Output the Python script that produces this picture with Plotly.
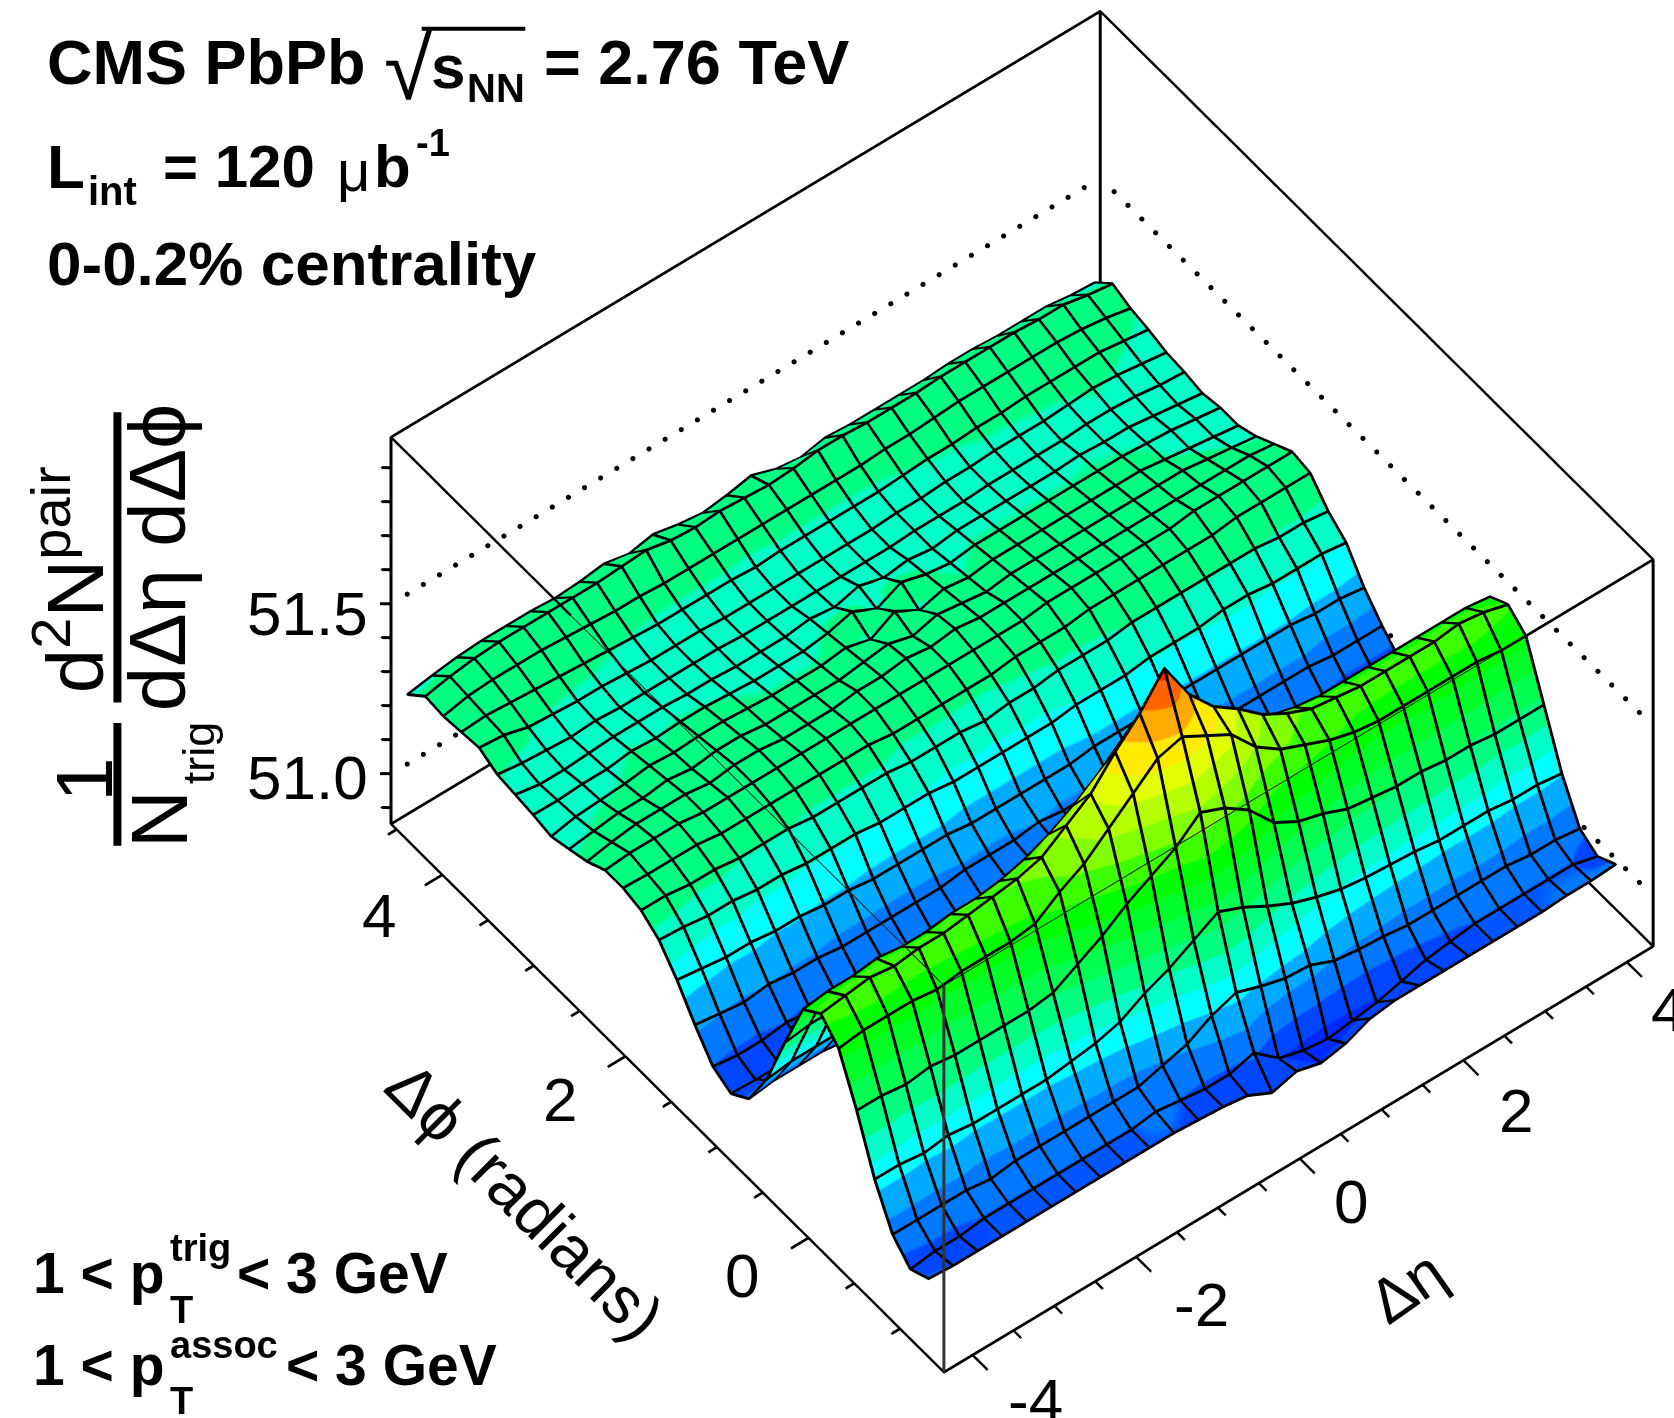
import plotly.graph_objects as go

DETA = [-4.2,-3.9,-3.6,-3.3,-3.0,-2.7,-2.4,-2.1,-1.8,-1.5,-1.2,-0.9,-0.6,-0.3,0.0,0.3,0.6,0.9,1.2,1.5,1.8,2.1,2.4,2.7,3.0,3.3,3.6,3.9,4.2]
DPHI = [-1.178,-0.98,-0.785,-0.589,-0.393,-0.196,0.0,0.196,0.393,0.589,0.785,0.98,1.178,1.374,1.571,1.767,1.963,2.16,2.356,2.553,2.749,2.945,3.142,3.338,3.534,3.731,3.927,4.123,4.32,4.516]

RM1 = [51.025,51.02,51.02,51.02,51.02,51.02,51.02,51.02,51.02,51.02,51.02,51.015,51.01,51.00,50.965,50.985,50.966,50.98,51.01,51.02,51.02,51.02,51.02,51.02,51.02,51.02,51.025,51.025,51.03]
R00 = [51.00,51.01,51.01,51.02,51.02,51.02,51.02,51.02,51.02,51.02,51.03,51.02,51.01,51.01,51.03,50.97,50.95,50.94,50.95,50.96,50.98,51.00,51.01,51.02,51.02,51.02,51.02,51.02,51.00]
R01 = [51.05,51.05,51.05,51.05,51.04,51.05,51.05,51.05,51.05,51.05,51.05,51.07,51.09,51.13,51.155,51.13,51.11,51.105,51.075,51.065,51.06,51.05,51.05,51.05,51.05,51.05,51.04,51.04,51.03]
R02 = [51.16,51.16,51.15,51.16,51.15,51.15,51.15,51.15,51.16,51.17,51.19,51.23,51.26,51.30,51.34,51.31,51.27,51.235,51.21,51.19,51.18,51.175,51.17,51.16,51.16,51.16,51.15,51.15,51.14]
R03 = [51.31,51.31,51.30,51.31,51.30,51.30,51.30,51.30,51.31,51.35,51.39,51.44,51.48,51.52,51.58,51.55,51.50,51.42,51.38,51.36,51.33,51.32,51.31,51.31,51.30,51.30,51.29,51.29,51.29]
R04 = [51.44,51.45,51.45,51.45,51.44,51.45,51.45,51.45,51.46,51.51,51.55,51.61,51.67,51.73,51.75,51.71,51.67,51.59,51.54,51.51,51.48,51.46,51.45,51.45,51.45,51.45,51.45,51.44,51.44]
R05 = [51.49,51.50,51.51,51.50,51.51,51.51,51.52,51.53,51.54,51.56,51.61,51.66,51.74,51.81,51.90,51.78,51.70,51.65,51.59,51.55,51.52,51.51,51.50,51.50,51.50,51.50,51.51,51.50,51.48]
R06 = [51.45,51.46,51.46,51.47,51.46,51.46,51.47,51.47,51.48,51.50,51.53,51.57,51.62,51.68,51.74,51.67,51.61,51.56,51.52,51.49,51.47,51.46,51.46,51.46,51.46,51.46,51.46,51.46,51.45]
R07 = [51.30,51.31,51.31,51.31,51.30,51.31,51.31,51.31,51.32,51.33,51.36,51.40,51.44,51.49,51.53,51.48,51.43,51.38,51.35,51.33,51.31,51.31,51.30,51.31,51.30,51.31,51.30,51.30,51.30]
R08 = [51.14,51.15,51.15,51.15,51.14,51.14,51.15,51.15,51.16,51.17,51.19,51.22,51.26,51.30,51.33,51.30,51.26,51.22,51.19,51.17,51.16,51.15,51.15,51.15,51.14,51.15,51.15,51.14,51.14]
R09 = [51.03,51.04,51.04,51.04,51.03,51.04,51.04,51.04,51.05,51.05,51.07,51.09,51.12,51.15,51.18,51.15,51.12,51.09,51.07,51.05,51.05,51.04,51.04,51.04,51.03,51.04,51.03,51.03,51.03]
R10 = [50.993,50.99,50.99,51.00,50.99,51.00,51.00,51.00,51.00,51.01,51.02,51.03,51.05,51.06,51.07,51.06,51.05,51.03,51.02,51.01,51.00,51.00,51.00,51.00,50.99,51.00,50.99,50.99,50.99]
R11 = [51.02,51.01,51.01,51.02,51.01,51.02,51.01,51.02,51.02,51.02,51.03,51.04,51.05,51.06,51.07,51.06,51.05,51.04,51.03,51.02,51.02,51.01,51.01,51.01,51.00,51.01,51.00,51.00,51.00]
R12 = [51.09,51.08,51.07,51.08,51.07,51.07,51.06,51.06,51.06,51.06,51.06,51.07,51.07,51.07,51.08,51.07,51.07,51.06,51.06,51.06,51.06,51.06,51.06,51.06,51.06,51.06,51.05,51.05,51.05]
R13 = [51.17,51.16,51.15,51.15,51.14,51.14,51.13,51.13,51.12,51.12,51.12,51.12,51.11,51.11,51.11,51.11,51.11,51.12,51.12,51.12,51.13,51.13,51.13,51.13,51.13,51.13,51.12,51.12,51.11]
R14 = [51.235,51.23,51.22,51.22,51.21,51.21,51.20,51.20,51.20,51.19,51.19,51.19,51.18,51.18,51.18,51.18,51.18,51.19,51.19,51.19,51.20,51.20,51.20,51.21,51.21,51.20,51.20,51.20,51.19]
R15 = [51.27,51.27,51.26,51.26,51.25,51.25,51.25,51.24,51.24,51.24,51.24,51.23,51.23,51.23,51.22,51.23,51.23,51.24,51.24,51.24,51.25,51.25,51.25,51.25,51.25,51.25,51.24,51.24,51.23]
R16 = [51.283,51.28,51.28,51.28,51.27,51.27,51.27,51.27,51.27,51.27,51.27,51.26,51.26,51.26,51.26,51.26,51.27,51.27,51.27,51.28,51.28,51.28,51.28,51.28,51.28,51.29,51.29,51.29,51.29]
R17 = [51.283,51.29,51.29,51.29,51.28,51.28,51.28,51.28,51.28,51.28,51.28,51.28,51.28,51.28,51.28,51.28,51.28,51.28,51.29,51.29,51.29,51.29,51.29,51.29,51.30,51.30,51.30,51.30,51.30]
R18 = [51.256,51.27,51.28,51.28,51.28,51.27,51.28,51.28,51.27,51.27,51.27,51.28,51.28,51.29,51.28,51.29,51.28,51.28,51.28,51.28,51.28,51.28,51.28,51.28,51.28,51.28,51.28,51.28,51.27]
R19 = [51.24,51.25,51.26,51.26,51.27,51.26,51.27,51.27,51.26,51.26,51.26,51.26,51.27,51.28,51.26,51.28,51.27,51.26,51.27,51.27,51.27,51.27,51.27,51.27,51.27,51.27,51.26,51.25,51.24]
R20 = [51.225,51.24,51.245,51.25,51.26,51.255,51.26,51.26,51.255,51.25,51.25,51.25,51.26,51.24,51.28,51.24,51.26,51.25,51.26,51.26,51.26,51.26,51.26,51.26,51.26,51.25,51.24,51.23,51.22]
R21 = [51.236,51.235,51.24,51.24,51.25,51.245,51.25,51.25,51.245,51.24,51.24,51.24,51.25,51.27,51.235,51.27,51.25,51.24,51.25,51.25,51.25,51.25,51.25,51.25,51.25,51.245,51.24,51.23,51.22]
R22 = [51.243,51.23,51.23,51.235,51.24,51.24,51.24,51.235,51.235,51.23,51.23,51.23,51.24,51.23,51.25,51.23,51.24,51.23,51.24,51.24,51.24,51.24,51.24,51.245,51.24,51.24,51.23,51.22,51.21]
R23 = [51.25,51.24,51.235,51.23,51.235,51.23,51.23,51.23,51.23,51.23,51.225,51.225,51.225,51.225,51.225,51.225,51.225,51.23,51.23,51.23,51.235,51.235,51.235,51.235,51.24,51.24,51.235,51.225,51.22]
R24 = [51.276,51.27,51.25,51.245,51.24,51.24,51.235,51.23,51.23,51.23,51.225,51.225,51.225,51.225,51.225,51.225,51.225,51.23,51.23,51.235,51.235,51.24,51.24,51.24,51.245,51.25,51.245,51.235,51.225]
R25 = [51.27,51.275,51.27,51.265,51.26,51.255,51.25,51.245,51.24,51.24,51.24,51.24,51.235,51.24,51.24,51.24,51.24,51.24,51.245,51.25,51.25,51.255,51.255,51.26,51.26,51.26,51.26,51.25,51.24]
R26 = [51.264,51.28,51.285,51.285,51.285,51.28,51.275,51.27,51.27,51.265,51.265,51.265,51.265,51.265,51.265,51.265,51.265,51.265,51.27,51.27,51.275,51.28,51.28,51.28,51.28,51.28,51.275,51.265,51.25]
R27 = [51.27,51.285,51.295,51.30,51.30,51.30,51.30,51.30,51.305,51.31,51.295,51.29,51.295,51.29,51.285,51.29,51.30,51.30,51.295,51.295,51.295,51.30,51.30,51.30,51.30,51.295,51.295,51.28,51.27]
R28 = [51.223,51.235,51.245,51.25,51.25,51.25,51.245,51.25,51.26,51.245,51.26,51.245,51.235,51.245,51.26,51.235,51.225,51.24,51.235,51.235,51.235,51.235,51.24,51.24,51.235,51.235,51.235,51.225,51.22]
Z_ROWS = [RM1,R00,R01,R02,R03,R04,R05,R06,R07,R08,R09,R10,R11,R12,R13,R14,R15,R16,R17,R18,R19,R20,R21,R22,R23,R24,R25,R26,R27,R28]

BAND_COLORS = ["#000aff","#0028ff","#0046ff","#0078ff","#00aaff","#00ffff","#00ffc8","#00ff80","#00ff50","#00ff28",
               "#00ff00","#3cff00","#82ff00","#b4ff00","#e1ff00","#ffeb00","#ffaa00","#ff6400","#ff1e00","#ff0000"]
Z_CMIN, Z_CMAX = 50.852, 51.99

ETA_RANGE = [-4.35, 4.32]
PHI_RANGE = [-1.48, 4.56]
Z_RANGE = [50.852, 51.99]
ETA_MAJOR = [-4, -2, 0, 2, 4]
ETA_MINOR = [-3.5,-3,-2.5,-1.5,-1,-0.5,0.5,1,1.5,2.5,3,3.5]
PHI_MAJOR = [0, 2, 4]
PHI_MINOR = [-1,-0.5,0.5,1,1.5,2.5,3,3.5,4.5]
Z_MAJOR = [51.0, 51.5]
Z_MINOR = [50.9,51.1,51.2,51.3,51.4,51.6,51.7,51.8,51.9]

W = 1568.0; H = 1328.0
def px(x, y):
    return x / W, 1 - y / H

n = len(BAND_COLORS)
cs = []
for k, c in enumerate(BAND_COLORS):
    cs += [[k / n, c], [(k + 1) / n, c]]

fig = go.Figure()
fig.add_trace(go.Surface(
    x=DETA, y=DPHI, z=Z_ROWS, colorscale=cs, cmin=Z_CMIN, cmax=Z_CMAX, showscale=False, hoverinfo="skip",
    lighting=dict(ambient=1, diffuse=0, specular=0, roughness=1, fresnel=0),
    contours=dict(x=dict(show=False, highlight=False), y=dict(show=False, highlight=False), z=dict(show=False, highlight=False))))

e0, e1 = ETA_RANGE; p0, p1 = PHI_RANGE; z0, z1 = Z_RANGE

# WebGL draws 1 px lines: thick lines are built from copies shifted by whole screen pixels.
def shift(dx, dy, toward=0.0):
    a = dx * 0.9367 / 123.0
    return (a - 0.0261 * toward, -0.542 * a - 0.0233 * toward, dy * 0.9367 / 318.0 + 0.01 * toward)

CROSS = [(0, 0), (1, 0), (-1, 0), (0, 1), (0, -1)]

def polylines(paths, offsets=CROSS, color="black", toward=0.0):
    for dx, dy in offsets:
        sx, sy, sz = shift(dx, dy, toward)
        xs, ys, zs = [], [], []
        for path in paths:
            for p in path:
                xs.append(p[0] + sx); ys.append(p[1] + sy); zs.append(p[2] + sz)
            xs.append(None); ys.append(None); zs.append(None)
        fig.add_trace(go.Scatter3d(x=xs, y=ys, z=zs, mode="lines", line=dict(color=color, width=2), hoverinfo="skip", showlegend=False))

# surface grid lines, from the same arrays
grid = []
for i, phi in enumerate(DPHI):
    grid.append([(eta, phi, Z_ROWS[i][j]) for j, eta in enumerate(DETA)])
for j, eta in enumerate(DETA):
    grid.append([(eta, phi, Z_ROWS[i][j]) for i, phi in enumerate(DPHI)])
polylines(grid, toward=0.6)

# box
polylines([[(e0,p0,z0),(e1,p0,z0)], [(e0,p0,z0),(e0,p1,z0)], [(e0,p1,z0),(e1,p1,z0)], [(e1,p0,z0),(e1,p1,z0)],
           [(e0,p1,z0),(e0,p1,z1)], [(e1,p1,z0),(e1,p1,z1)], [(e1,p0,z0),(e1,p0,z1)],
           [(e0,p1,z1),(e1,p1,z1)], [(e1,p0,z1),(e1,p1,z1)],
           [(e0,p1,z1),(e0,2.6,z1)], [(e1,p0,z1),(2.78,p0,z1)]])
polylines([[(e0,p0,z0),(e0,p0,z1)]], offsets=[(0,0),(1,0),(-1,0)], color="#333333")
polylines([[(e0,p0,z1),(2.78,p0,z1)], [(e0,p0,z1),(e0,2.6,z1)]], offsets=[(0,0)], color="#222222")
# ticks
seg = []
for v in ETA_MAJOR: seg.append([(v,p0,z0),(v,p0-0.16,z0)])
for v in ETA_MINOR: seg.append([(v,p0,z0),(v,p0-0.08,z0)])
for v in PHI_MAJOR: seg.append([(e0,v,z0),(e0-0.21,v,z0)])
for v in PHI_MINOR: seg.append([(e0,v,z0),(e0-0.1,v,z0)])
for v in Z_MAJOR: seg.append([(e0,p1,v),(e0-0.127,p1+0.069,v)])
for v in Z_MINOR: seg.append([(e0,p1,v),(e0-0.07,p1+0.04,v)])
polylines(seg)

# dotted levels on the back walls
dx, dy, dz = [], [], []
for v in Z_MAJOR:
    m = int((e1 - e0) / 0.196)
    for k in range(1, m):
        dx.append(e0 + k * (e1 - e0) / m); dy.append(p1); dz.append(v)
    m = int((p1 - p0) / 0.15)
    for k in range(1, m):
        dx.append(e1); dy.append(p1 - k * (p1 - p0) / m); dz.append(v)
fig.add_trace(go.Scatter3d(x=dx, y=dy, z=dz, mode="markers", marker=dict(size=3, color="black", symbol="circle", line=dict(width=0)), hoverinfo="skip", showlegend=False))

# annotations
ann = []
def T(text, x, y, size, bold=False, angle=0, anchor="center"):
    ax, ay = px(x, y)
    s = "<b>%s</b>" % text if bold else text
    ann.append(dict(text=s, x=ax, y=ay, xref="paper", yref="paper", showarrow=False, xanchor=anchor, yanchor="middle",
                    textangle=angle, font=dict(size=size, color="black", family="Liberation Sans")))

T("CMS PbPb", 42, 58, 63, True, anchor="left")
T("√", 358, 64, 88, False, anchor="left")
T("s", 402, 62, 62, True, anchor="left")
T("NN", 436, 82, 40, True, anchor="left")
T("= 2.76 TeV", 508, 58, 63, True, anchor="left")
T("L", 42, 156, 62, True, anchor="left")
T("int", 81, 179, 40, True, anchor="left")
T("= 120", 151, 156, 60, True, anchor="left")
T("μ", 314, 160, 58, False, anchor="left")
T("b", 348, 156, 60, True, anchor="left")
T("-1", 388, 134, 38, True, anchor="left")
T("0-0.2% centrality", 42, 247, 62, True, anchor="left")

T("1 &lt; p", 29, 1192, 57, True, anchor="left")
T("trig", 157, 1169, 38, True, anchor="left")
T("T", 157, 1227, 38, True, anchor="left")
T("&lt; 3 GeV", 220, 1192, 57, True, anchor="left")
T("1 &lt; p", 29, 1278, 57, True, anchor="left")
T("assoc", 157, 1260, 38, True, anchor="left")
T("T", 157, 1312, 38, True, anchor="left")
T("&lt; 3 GeV", 266, 1278, 57, True, anchor="left")

for lab, x, y in [("51.5", 288, 575), ("51.0", 288, 728), ("4", 355, 857), ("2", 525, 1030), ("0", 695, 1195),
                  ("-4", 970, 1312), ("-2", 1125, 1222), ("0", 1265, 1125), ("2", 1420, 1040), ("4", 1562, 945)]:
    T(lab, x, y, 62)
T("Δϕ (radians)", 492, 1125, 66, angle=45)
T("Δη", 1318, 1205, 62, angle=-35)

T("d<sup>2</sup>N<sup>pair</sup>", 65, 543, 80, angle=-90)
T("dΔη dΔϕ", 147, 522, 80, angle=-90)
T("1", 79, 730, 80, angle=-90)
T("N", 150, 767, 80, angle=-90)
T("trig", 186, 705, 45, angle=-90)

shapes = []
def rule(x0, y0, x1, y1, w):
    a = px(x0, y0); b = px(x1, y1)
    shapes.append(dict(type="line", xref="paper", yref="paper", x0=a[0], y0=a[1], x1=b[0], y1=b[1], line=dict(color="black", width=w)))
rule(110, 386, 110, 658, 8)
rule(110, 677, 110, 792, 8)
rule(395, 27, 492, 27, 4)

EYE_NORM = 2.0
scene = dict(
    domain=dict(x=[0.227, 1.0], y=[0.02, 1.0]),
    xaxis=dict(visible=False, range=[-4.65, 4.65]),
    yaxis=dict(visible=False, range=[-1.75, 4.75]),
    zaxis=dict(visible=False, range=[50.84, 52.0]),
    aspectmode="manual", aspectratio=dict(x=1.387, y=1.394, z=0.892),
    camera=dict(projection=dict(type="orthographic"), up=dict(x=0, y=0, z=1), center=dict(x=0, y=0, z=0),
                eye=dict(x=-0.3905*EYE_NORM, y=-0.5018*EYE_NORM, z=0.7715*EYE_NORM)))

fig.update_layout(width=1674, height=1418, margin=dict(l=0, r=0, t=0, b=0), paper_bgcolor="white", plot_bgcolor="white",
                  scene=scene, annotations=ann, shapes=shapes, showlegend=False)
fig.write_html("out.html", config=dict(displayModeBar=False), post_script="document.body.style.margin='0';document.body.style.overflow='hidden';")
